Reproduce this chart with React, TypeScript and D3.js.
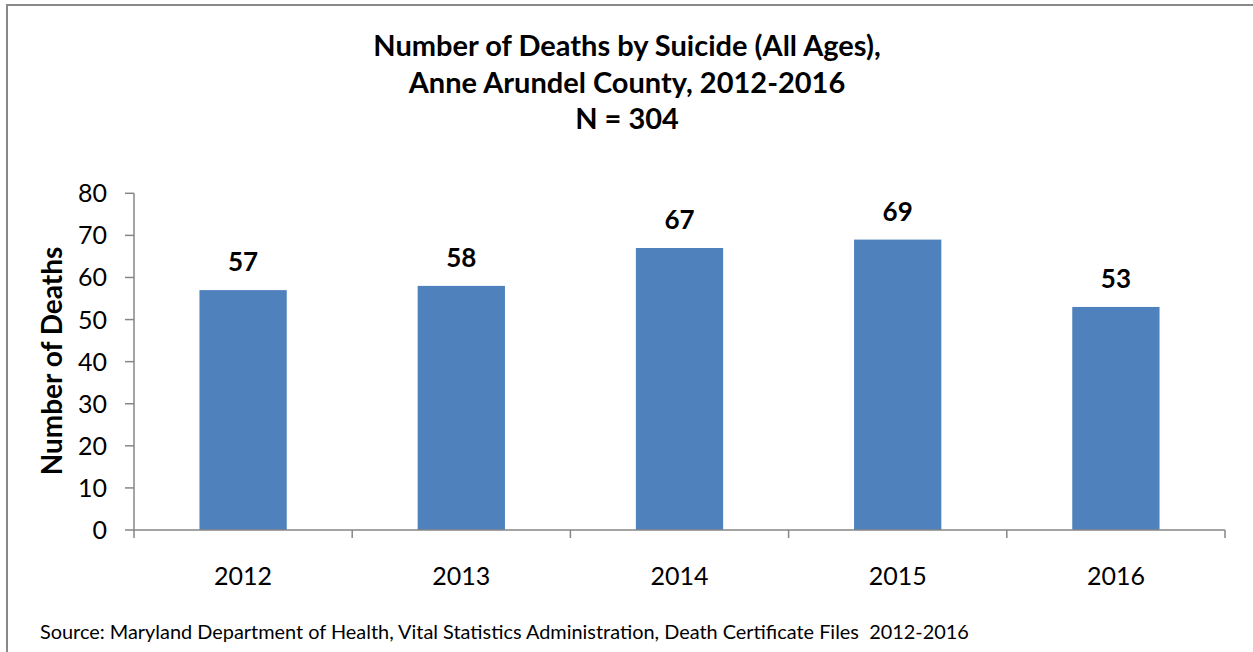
import React from "react";
import * as d3 from "d3";

const years = ["2012", "2013", "2014", "2015", "2016"];
const deaths = [57, 58, 67, 69, 53];
const yTicks = [0, 10, 20, 30, 40, 50, 60, 70, 80];
const titleLines = [
  "Number of Deaths by Suicide (All Ages),",
  "Anne Arundel County, 2012-2016",
  "N = 304",
];
const yAxisLabel = "Number of Deaths";
const sourceText =
  "Source: Maryland Department of Health, Vital Statistics Administration, Death Certificate Files  2012-2016";

const W = 1253;
const H = 652;
const FONT = "Lato, 'Open Sans', sans-serif";

export default function App() {
  const left = 134;
  const right = 1225;
  const top = 193.3;
  const bottom = 530;

  const x = d3.scaleBand<string>().domain(years).range([left, right]).paddingInner(0.6).paddingOuter(0.3);
  const y = d3.scaleLinear().domain([0, 80]).range([bottom, top]);
  const band = (right - left) / years.length;
  const boundaries = d3.range(years.length + 1).map((i) => left + i * band);
  const axisColor = "#868686";

  return (
    <svg
      width={W}
      height={H}
      style={{ position: "absolute", left: 0, top: 0, display: "block" }}
    >
      <rect x={0} y={0} width={W} height={H} fill="#fff" />
      <rect x={7} y={5} width={W + 20} height={H + 20} fill="none" stroke="#898989" strokeWidth={2} />
      {titleLines.map((t, i) => (
        <text
          key={i}
          x={627}
          y={56 + i * 36.5}
          textAnchor="middle"
          fontFamily={FONT}
          fontWeight="bold"
          fontSize={29}
          fill="#000"
        >
          {t}
        </text>
      ))}
      {/* bars */}
      {deaths.map((d, i) => (
        <rect
          key={years[i]}
          x={x(years[i])}
          y={y(d)}
          width={x.bandwidth()}
          height={bottom - y(d)}
          fill="#4F81BD"
        />
      ))}
      {/* value labels */}
      {deaths.map((d, i) => (
        <text
          key={"l" + years[i]}
          x={(x(years[i]) as number) + x.bandwidth() / 2}
          y={y(d) - 19}
          textAnchor="middle"
          fontFamily={FONT}
          fontWeight="bold"
          fontSize={26}
          fill="#000"
        >
          {d}
        </text>
      ))}
      {/* y axis */}
      <line x1={left} x2={left} y1={top} y2={bottom} stroke={axisColor} strokeWidth={1.5} />
      {yTicks.map((t) => (
        <g key={t}>
          <line x1={left - 9} x2={left} y1={y(t)} y2={y(t)} stroke={axisColor} strokeWidth={1.5} />
          <text
            x={left - 27}
            y={y(t)}
            dy="0.36em"
            textAnchor="end"
            fontFamily={FONT}
            fontSize={25}
            fill="#000"
          >
            {t}
          </text>
        </g>
      ))}
      {/* x axis */}
      <line x1={left} x2={right} y1={bottom} y2={bottom} stroke={axisColor} strokeWidth={1.5} />
      {boundaries.map((b, i) => (
        <line key={i} x1={b} x2={b} y1={bottom} y2={bottom + 8} stroke={axisColor} strokeWidth={1.5} />
      ))}
      {years.map((yr) => (
        <text
          key={"x" + yr}
          x={(x(yr) as number) + x.bandwidth() / 2}
          y={585}
          textAnchor="middle"
          fontFamily={FONT}
          fontSize={25}
          fill="#000"
        >
          {yr}
        </text>
      ))}
      <text
        transform={`translate(62, 361) rotate(-90)`}
        textAnchor="middle"
        fontFamily={FONT}
        fontWeight="bold"
        fontSize={28}
        fill="#000"
      >
        {yAxisLabel}
      </text>
      <text
        x={40}
        y={639}
        fontFamily={FONT}
        fontSize={19.9}
        fill="#000"
        style={{ whiteSpace: "pre" }}
      >
        {sourceText}
      </text>
    </svg>
  );
}
